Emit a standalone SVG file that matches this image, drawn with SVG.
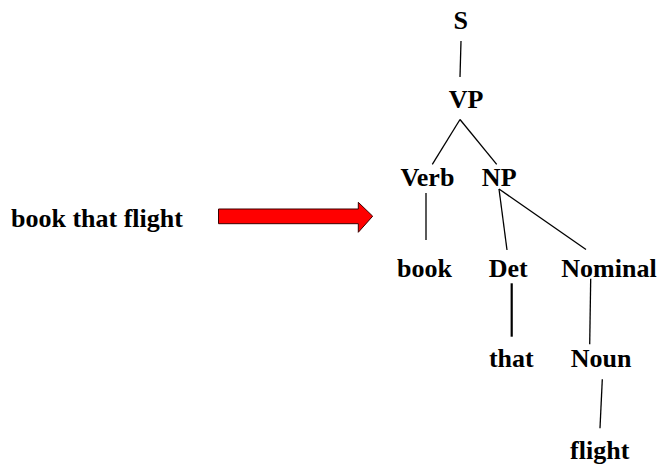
<svg xmlns="http://www.w3.org/2000/svg" width="663" height="466" viewBox="0 0 663 466">
<style>
text{font-family:"Liberation Serif","Times New Roman",serif;font-weight:bold;font-size:26px;fill:#000;text-anchor:middle}
.e{stroke:#000;stroke-width:1.3;fill:none}
.t{stroke-width:2.2}
</style>
<rect width="663" height="466" fill="#fff"/>
<g id="connectors">
<line class="e" x1="461" y1="41" x2="460" y2="77"/>
<line class="e" x1="460" y1="119.5" x2="432.3" y2="164.3"/>
<line class="e" x1="460" y1="119.5" x2="496.7" y2="164.3"/>
<line class="e" x1="426" y1="193" x2="426" y2="240"/>
<line class="e" x1="499" y1="189" x2="507" y2="250"/>
<line class="e" x1="499" y1="189" x2="586" y2="249.5"/>
<line class="e t" x1="511.7" y1="283.3" x2="511.7" y2="336.7"/>
<line class="e" x1="590.7" y1="278.7" x2="589.7" y2="344.3"/>
<line class="e" x1="602.3" y1="379.3" x2="600" y2="428.3"/>
</g>
<g id="input"><text x="11" y="227" style="text-anchor:start">book that flight</text></g>
<g id="arrow"><path d="M218.5 209 H358.3 V202.3 L372.7 216.2 L358.3 232.3 V223.7 H218.5 Z" fill="#ff0000" stroke="#3a0000" stroke-width="1"/></g>
<g id="S"><text x="460.7" y="29">S</text></g>
<g id="VP"><text x="466" y="108">VP</text></g>
<g id="Verb"><text x="427.4" y="186">Verb</text></g>
<g id="NP"><text x="499.2" y="186">NP</text></g>
<g id="book"><text x="424.5" y="277">book</text></g>
<g id="Det"><text x="508.2" y="277">Det</text></g>
<g id="Nominal"><text x="609" y="277">Nominal</text></g>
<g id="that"><text x="511.3" y="367">that</text></g>
<g id="Noun"><text x="601.2" y="367">Noun</text></g>
<g id="flight"><text x="599.7" y="458.5">flight</text></g>
</svg>
